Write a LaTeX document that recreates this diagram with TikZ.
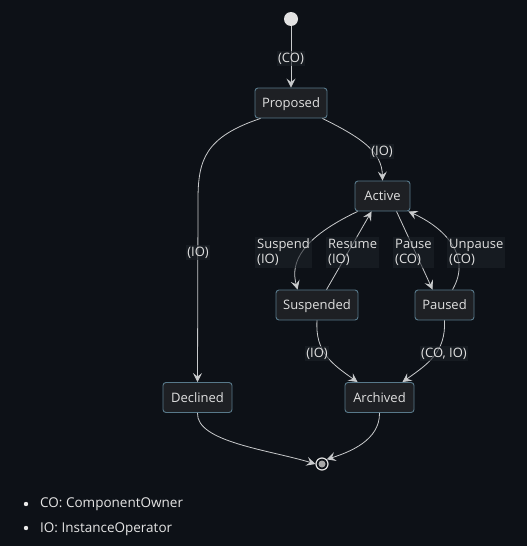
\documentclass[tikz,border=0pt]{standalone}
\usepackage{fontspec}
\setmainfont{Open Sans}
\usetikzlibrary{arrows.meta,calc}
\definecolor{bgc}{HTML}{0D1117}
\definecolor{nodefill}{HTML}{1E2024}
\definecolor{nodeline}{HTML}{58798A}
\definecolor{txt}{HTML}{E0E0E0}
\definecolor{edgec}{HTML}{C8CACC}
\definecolor{lblfill}{HTML}{1D2229}
\tikzset{
  state/.style={draw=nodeline, fill=nodefill, rounded corners=3pt, line width=0.9pt,
    minimum height=30pt, inner xsep=0pt, text=txt, font=\fontsize{13}{15}\selectfont,
    text height=10.5pt, text depth=1.5pt},
  edge/.style={draw=edgec, line width=0.8pt, -{Stealth[length=9pt,width=9pt,inset=3.5pt]}},
  lbl/.style={text=txt, font=\fontsize{13}{15}\selectfont, inner sep=1.5pt, fill=lblfill, fill opacity=0.6, text opacity=1},
  lblbox/.style={lbl, align=left, anchor=west, inner sep=2pt},
  legend/.style={text=txt!85, font=\fontsize{13.5}{15}\selectfont, anchor=west, inner sep=0pt},
}
\begin{document}
\begin{tikzpicture}[x=1pt,y=-1pt]
\fill[bgc] (0,0) rectangle (527,546);
\useasboundingbox (0,0) rectangle (527,546);

\node[circle, fill=txt!95, minimum size=14pt, inner sep=0pt] (start) at (291,19) {};
\node[state, minimum width=72pt] (prop) at (291,103) {Proposed};
\node[state, minimum width=55pt] (act) at (382.5,196) {Active};
\node[state, minimum width=82pt] (susp) at (317,305) {Suspended};
\node[state, minimum width=59pt] (paus) at (444.5,305) {Paused};
\node[state, minimum width=69pt] (decl) at (197.5,397.5) {Declined};
\node[state, minimum width=69pt] (arch) at (379.5,397.5) {Archived};
\node[circle, draw=txt!95, line width=1.2pt, fill=bgc, minimum size=12pt, inner sep=0pt] (end) at (322,464) {};
\node[circle, fill=gray!70, minimum size=7pt, inner sep=0pt] (endin) at (end.center) {};

% edges
\draw[edge] (start) -- (prop);
\draw[edge] ([xshift=6pt]prop.south west) .. controls (205,137) and (198,160) .. (198,200) -- (decl.north);
\draw[edge] ([xshift=-5pt]prop.south east) .. controls (362,138) and (382,152) .. (act.north);
\draw[edge] ([xshift=3pt]act.south west) .. controls (302,238) and (290,262) .. ([xshift=22pt]susp.north west);
\draw[edge] ([xshift=51pt]susp.north west) -- ([xshift=17pt]act.south west);
\draw[edge] ([xshift=42pt]act.south west) -- ([xshift=18pt]paus.north west);
\draw[edge] ([xshift=38pt]paus.north west) .. controls (472,256) and (445,228) .. ([xshift=-2pt]act.south east);
\draw[edge] (susp.south) .. controls (315,352) and (332,364) .. ([xshift=13pt]arch.north west);
\draw[edge] (paus.south) .. controls (446,352) and (428,364) .. ([xshift=-12pt]arch.north east);
\draw[edge] (decl.south) .. controls (196,442) and (270,450) .. (end.west);
\draw[edge] (arch.south) .. controls (380,440) and (350,452) .. (end.north east);

% labels
\node[lbl] (l1) at (291,58.5) {(CO)};
\node[lbl] (l2) at (382,151.5) {(IO)};
\node[lbl] (l3) at (198,252.5) {(IO)};
\node[lblbox] (l4) at (255,252.5) {Suspend\\(IO)};
\node[lblbox] (l5) at (326,252.5) {Resume\\(IO)};
\node[lblbox] (l6) at (393,252.5) {Pause\\(CO)};
\node[lblbox] (l7) at (447,252.5) {Unpause\\(CO)};
\node[lbl] (l8) at (317,353.5) {(IO)};
\node[lbl] (l9) at (444,353.5) {(CO, IO)};

% legend
\fill[txt!70] (26,504) circle (2.2pt);
\fill[txt!70] (26,528) circle (2.2pt);
\node[legend] (g1) at (40,504) {CO: ComponentOwner};
\node[legend] (g2) at (40,529) {IO: InstanceOperator};
\end{tikzpicture}
\end{document}
